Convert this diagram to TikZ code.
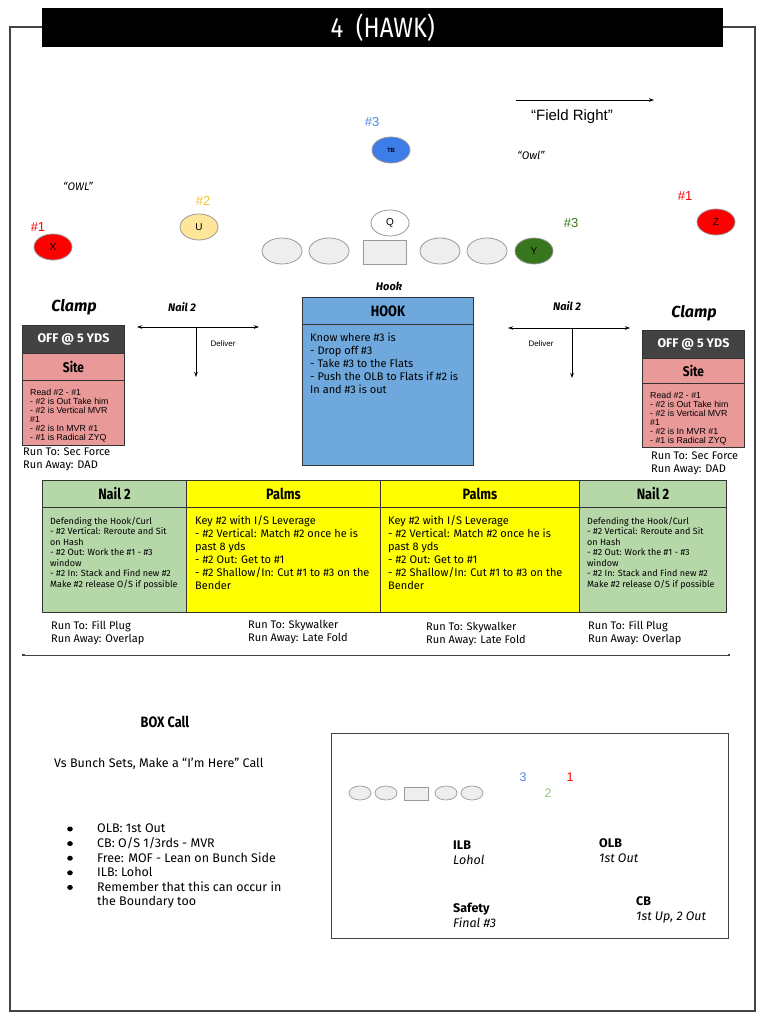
\documentclass[tikz,border=0pt]{standalone}
\usepackage{fontspec}
\setmainfont{Fira Sans}
\newfontfamily\arialf{Liberation Sans}
\newfontfamily\condf[FakeStretch=0.85]{Fira Sans}
\usetikzlibrary{shapes.geometric,arrows.meta}
\definecolor{bdr}{HTML}{333333}
\definecolor{frm}{HTML}{444444}
\definecolor{lgray}{HTML}{EEEEEE}
\definecolor{mgray}{HTML}{999999}
\definecolor{tbblue}{HTML}{3C7DE8}
\definecolor{lblblue}{HTML}{4A86E8}
\definecolor{uyel}{HTML}{FFE599}
\definecolor{lblyel}{HTML}{F1C232}
\definecolor{ygreen}{HTML}{38761D}
\definecolor{lgreen}{HTML}{93C47D}
\definecolor{hookblue}{HTML}{6FA8DC}
\definecolor{offgray}{HTML}{434343}
\definecolor{sitepink}{HTML}{EA9999}
\definecolor{nailgreen}{HTML}{B6D7A8}
\definecolor{palmyel}{HTML}{FFFF00}
\newcommand{\fs}[2]{\fontsize{#1}{#2}\selectfont}
\begin{document}
\begin{tikzpicture}[x=1pt,y=-1pt,
  player/.style={ellipse, draw=mgray, line width=0.8pt, minimum width=38pt, minimum height=26pt, inner sep=0, font=\arialf\fs{10}{10}},
  lineman/.style={player, fill=lgray, minimum width=40pt},
  smallman/.style={ellipse, draw=mgray, line width=0.7pt, fill=lgray, minimum width=22pt, minimum height=14pt, inner sep=0},
  numlbl/.style={font=\arialf\fs{13}{13}, inner sep=0},
  txt/.style={anchor=north west, align=left, inner sep=0},
  box/.style={draw=bdr, line width=1pt, inner sep=0, anchor=north west},
  hdr/.style={box, font=\condf\bfseries\fs{15}{15}},
  ital/.style={font=\bfseries\itshape\fs{11}{11}, inner sep=0},
  arr/.style={-{Stealth[length=5pt,width=3.5pt]}, line width=0.8pt},
  darr/.style={{Stealth[length=5pt,width=3.5pt]}-{Stealth[length=5pt,width=3.5pt]}, line width=0.8pt},
  runtxt/.style={txt, font=\fs{11}{13}}
]
\useasboundingbox (0,0) rectangle (768,1024);
% frame and title
\draw[frm, line width=1.2pt] (10,27) rectangle (755,1011);
\node[fill=black, minimum width=681pt, minimum height=39pt, inner sep=0, anchor=north west, text=white, font=\condf\fs{28}{28}] (title) at (42,8) {4\ \ (HAWK)};

% field direction
\coordinate (frA) at (516,100);
\coordinate (frB) at (654,100);
\draw[arr, line width=0.7pt] (frA) -- (frB);
\node[font=\arialf\fs{15}{15}, inner sep=0] (fr) at (572,117) {“Field Right”};
\node[font=\itshape\fs{11}{11}, inner sep=0] (owlr) at (531,155) {“Owl”};
\node[font=\itshape\fs{11}{11}, inner sep=0] (owll) at (78,186) {“OWL”};

% skill players
\node[numlbl, text=lblblue] (n3t) at (372,122) {\#3};
\node[player, fill=tbblue, font=\arialf\bfseries\fs{6}{6}] (tb) at (391,150) {TB};
\node[numlbl, text=lblyel] (n2) at (203,201) {\#2};
\node[player, fill=uyel] (u) at (199,227) {U};
\node[numlbl, text=red] (n1l) at (38,227) {\#1};
\node[player, fill=red] (x) at (53,247) {X};
\node[player, fill=white] (q) at (390,223) {Q};
\node[numlbl, text=ygreen] (n3y) at (571,223) {\#3};
\node[player, fill=ygreen] (y) at (534,251) {Y};
\node[numlbl, text=red] (n1r) at (685,196) {\#1};
\node[player, fill=red] (z) at (716,222) {Z};

% line
\node[lineman] (lt) at (282,251) {};
\node[lineman] (lg) at (329,251) {};
\node[draw=mgray, line width=0.8pt, fill=lgray, minimum width=43pt, minimum height=24pt, inner sep=0] (c) at (384.5,252) {};
\node[lineman] (rg) at (440,251) {};
\node[lineman] (rt) at (487,251) {};

% HOOK
\node[ital] (hooklbl) at (389,286) {Hook};
\node[hdr, fill=hookblue, minimum width=171pt, minimum height=27pt] (hookh) at (302,297) {HOOK};
\node[box, fill=hookblue, minimum width=171pt, minimum height=141pt] (hookb) at (302,324) {};
\node[txt, font=\fs{11}{13}] (hookt) at (310,333) {Know where \#3 is\\- Drop off \#3\\- Take \#3 to the Flats\\- Push the OLB to Flats if \#2 is\\In and \#3 is out};

% left clamp
\node[font=\bfseries\itshape\fs{16}{16}, inner sep=0] (clampl) at (74,307) {Clamp};
\node[box, fill=offgray, text=white, font=\bfseries\fs{12.5}{12.5}, minimum width=102pt, minimum height=28pt] (offl) at (22,325) {OFF @ 5 YDS};
\node[hdr, fill=sitepink, font=\condf\bfseries\fs{14}{14}, minimum width=102pt, minimum height=27pt] (sitel) at (22,353) {Site};
\node[box, fill=sitepink, minimum width=102pt, minimum height=65pt] (bodyl) at (22,380) {};
\node[txt, font=\arialf\fs{8.8}{9}] (bodylt) at (30,388.5) {Read \#2 - \#1\\- \#2 is Out Take him\\- \#2 is Vertical MVR\\\#1\\- \#2 is In MVR \#1\\- \#1 is Radical ZYQ};
\node[runtxt] (runl) at (23,447.5) {Run To: Sec Force\\Run Away: DAD};

% right clamp
\node[font=\bfseries\itshape\fs{16}{16}, inner sep=0] (clampr) at (694,313) {Clamp};
\node[box, fill=offgray, text=white, font=\bfseries\fs{12.5}{12.5}, minimum width=102pt, minimum height=28pt] (offr) at (642,330) {OFF @ 5 YDS};
\node[hdr, fill=sitepink, font=\condf\bfseries\fs{14}{14}, minimum width=102pt, minimum height=25pt] (siter) at (642,358) {Site};
\node[box, fill=sitepink, minimum width=102pt, minimum height=64pt] (bodyr) at (642,383) {};
\node[txt, font=\arialf\fs{8.8}{9}] (bodyrt) at (650,391.5) {Read \#2 - \#1\\- \#2 is Out Take him\\- \#2 is Vertical MVR\\\#1\\- \#2 is In MVR \#1\\- \#1 is Radical ZYQ};
\node[runtxt] (runr) at (651,452) {Run To: Sec Force\\Run Away: DAD};

% Nail 2 arrows
\node[ital] (naill) at (182,307) {Nail 2};
\coordinate (nlL) at (137,327);
\coordinate (nlR) at (259,327);
\coordinate (nlT) at (196,327);
\coordinate (nlB) at (196,377);
\draw[darr] (nlL) -- (nlR);
\draw[arr] (nlT) -- (nlB);
\node[font=\arialf\fs{8}{8}, inner sep=0] (dell) at (223,344) {Deliver};
\node[ital] (nailr) at (567,306) {Nail 2};
\coordinate (nrL) at (508,328);
\coordinate (nrR) at (630,328);
\coordinate (nrT) at (572,328);
\coordinate (nrB) at (572,378);
\draw[darr] (nrL) -- (nrR);
\draw[arr] (nrT) -- (nrB);
\node[font=\arialf\fs{8}{8}, inner sep=0] (delr) at (541,344) {Deliver};

% table
\node[hdr, fill=nailgreen, minimum width=144pt, minimum height=27pt] (t1h) at (42,480) {Nail 2};
\node[hdr, fill=palmyel, minimum width=194pt, minimum height=27pt] (t2h) at (186,480) {Palms};
\node[hdr, fill=palmyel, minimum width=199pt, minimum height=27pt] (t3h) at (380,480) {Palms};
\node[hdr, fill=nailgreen, minimum width=147pt, minimum height=27pt] (t4h) at (579,480) {Nail 2};
\node[box, fill=nailgreen, minimum width=144pt, minimum height=105pt] (t1b) at (42,507) {};
\node[box, fill=palmyel, minimum width=194pt, minimum height=105pt] (t2b) at (186,507) {};
\node[box, fill=palmyel, minimum width=199pt, minimum height=105pt] (t3b) at (380,507) {};
\node[box, fill=nailgreen, minimum width=147pt, minimum height=105pt] (t4b) at (579,507) {};
\node[txt, font=\fs{9}{10.5}] (t1t) at (50,517) {Defending the Hook/Curl\\- \#2 Vertical: Reroute and Sit\\on Hash\\- \#2 Out: Work the \#1 - \#3\\window\\- \#2 In: Stack and Find new \#2\\Make \#2 release O/S if possible};
\node[txt, font=\fs{11}{13}] (t2t) at (195,515) {Key \#2 with I/S Leverage\\- \#2 Vertical: Match \#2 once he is\\past 8 yds\\- \#2 Out: Get to \#1\\- \#2 Shallow/In: Cut \#1 to \#3 on the\\Bender};
\node[txt, font=\fs{11}{13}] (t3t) at (388,515) {Key \#2 with I/S Leverage\\- \#2 Vertical: Match \#2 once he is\\past 8 yds\\- \#2 Out: Get to \#1\\- \#2 Shallow/In: Cut \#1 to \#3 on the\\Bender};
\node[txt, font=\fs{9}{10.5}] (t4t) at (587,517) {Defending the Hook/Curl\\- \#2 Vertical: Reroute and Sit\\on Hash\\- \#2 Out: Work the \#1 - \#3\\window\\- \#2 In: Stack and Find new \#2\\Make \#2 release O/S if possible};
\node[runtxt] (r1) at (51,621) {Run To: Fill Plug\\Run Away: Overlap};
\node[runtxt] (r2) at (248,620) {Run To: Skywalker\\Run Away: Late Fold};
\node[runtxt] (r3) at (426,622) {Run To: Skywalker\\Run Away: Late Fold};
\node[runtxt] (r4) at (588,621) {Run To: Fill Plug\\Run Away: Overlap};

% divider
\coordinate (dvL) at (22,655);
\coordinate (dvR) at (730,655);
\draw[frm, line width=1pt, {Square[length=2.5pt,width=2.5pt]}-{Square[length=2.5pt,width=2.5pt]}] (dvL) -- (dvR);

% BOX call
\node[font=\condf\bfseries\fs{15}{15}, inner sep=0] (boxcall) at (165,722) {BOX Call};
\node[txt, font=\fs{12.5}{12.5}] (vs) at (54,758) {Vs Bunch Sets, Make a “I’m Here” Call};
\node[txt, font=\fs{12.5}{14.6}] (bul) at (97,824) {OLB: 1st Out\\CB: O/S 1/3rds - MVR\\Free: MOF - Lean on Bunch Side\\ILB: Lohol\\Remember that this can occur in\\the Boundary too};
\foreach \yy in {829,843.6,858.2,872.8,887.4} \fill (70,\yy) ellipse (2.8pt and 2.5pt);

% inset
\node[box, draw=frm, minimum width=397pt, minimum height=205pt] (inset) at (331,733) {};
\node[smallman] (i1) at (360,793) {};
\node[smallman] (i2) at (386,793) {};
\node[draw=mgray, line width=0.7pt, fill=lgray, minimum width=24pt, minimum height=13pt, inner sep=0] (i3) at (416,793.5) {};
\node[smallman] (i4) at (446,793) {};
\node[smallman] (i5) at (472,793) {};
\node[font=\arialf\fs{12.5}{12.5}, text=lblblue, inner sep=0] (in3) at (523,777) {3};
\node[font=\arialf\fs{12.5}{12.5}, text=red, inner sep=0] (in1) at (570,777) {1};
\node[font=\arialf\fs{12.5}{12.5}, text=lgreen, inner sep=0] (in2) at (548,793) {2};
\node[txt, font=\fs{12.5}{15}] (ilb) at (453,841) {\textbf{ILB}\\\textit{Lohol}};
\node[txt, font=\fs{12.5}{15}] (olb) at (599,838) {\textbf{OLB}\\\textit{1st Out}};
\node[txt, font=\fs{12.5}{15}] (saf) at (453,903) {\textbf{Safety}\\\textit{Final \#3}};
\node[txt, font=\fs{12.5}{15}] (cb) at (636,896) {\textbf{CB}\\\textit{1st Up, 2 Out}};
\end{tikzpicture}
\end{document}
